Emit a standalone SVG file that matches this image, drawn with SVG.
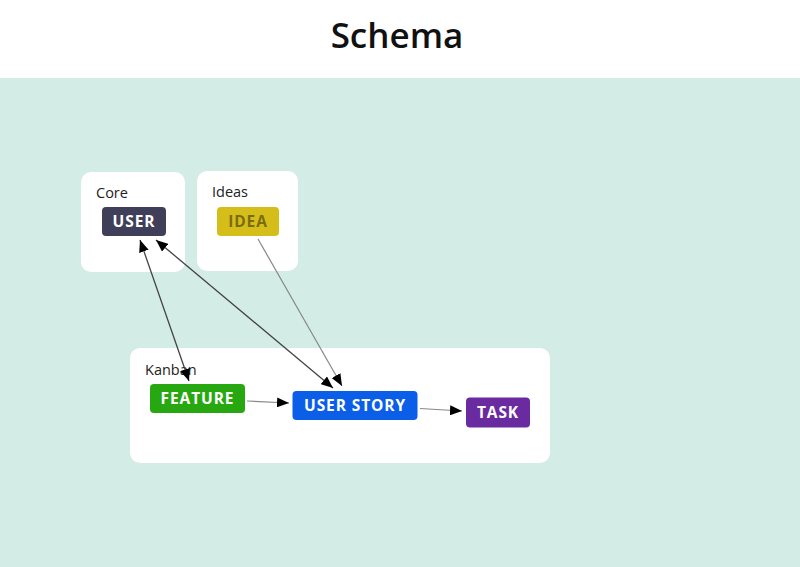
<svg xmlns="http://www.w3.org/2000/svg" width="800" height="567" viewBox="0 0 800 567">
<defs>
<style>
.title{font-family:"Open Sans","Noto Sans",sans-serif;font-weight:600;font-size:35px;fill:#111;}
.grp{fill:#ffffff;}
.glabel{font-family:"Open Sans","Noto Sans",sans-serif;font-size:14.5px;fill:#222;}
.nlabel{font-family:"Open Sans","Noto Sans",sans-serif;font-weight:700;font-size:15.5px;letter-spacing:0.9px;fill:#ffffff;text-anchor:middle;}
.edge{fill:none;stroke:#444;stroke-width:1.3;}
.edge-light{fill:none;stroke:#888;stroke-width:1.2;}
</style>
<marker id="arr" viewBox="0 0 12 10" refX="12" refY="5" markerWidth="12" markerHeight="10" markerUnits="userSpaceOnUse" orient="auto-start-reverse">
<path d="M0,0 L12,5 L0,10 Z" fill="#000"/>
</marker>
</defs>
<rect x="0" y="0" width="800" height="567" fill="#ffffff"/>
<rect x="0" y="78" width="800" height="489" fill="#d3ece6"/>
<text class="title" x="397" y="48" text-anchor="middle">Schema</text>

<g id="group-core">
<rect class="grp" x="81" y="172" width="104" height="100" rx="10"/>
<text class="glabel" x="96" y="198">Core</text>
</g>
<g id="group-ideas">
<rect class="grp" x="197" y="171" width="101" height="100" rx="10"/>
<text class="glabel" x="212" y="197">Ideas</text>
</g>
<g id="group-kanban">
<rect class="grp" x="130" y="348" width="420" height="115" rx="10"/>
<text class="glabel" x="145" y="375">Kanban</text>
</g>

<g id="connectors">
<line class="edge" x1="140" y1="240" x2="189" y2="381" marker-start="url(#arr)" marker-end="url(#arr)"/>
<line class="edge" x1="156" y1="240" x2="333" y2="388" marker-start="url(#arr)" marker-end="url(#arr)"/>
<line class="edge-light" x1="258" y1="239" x2="342" y2="386" marker-end="url(#arr)"/>
<line class="edge-light" x1="247" y1="401" x2="289" y2="403" marker-end="url(#arr)"/>
<line class="edge-light" x1="420" y1="408.5" x2="462" y2="411" marker-end="url(#arr)"/>
</g>

<g id="node-user">
<rect x="102" y="207" width="64" height="29" rx="4" fill="#3f3f5a"/>
<text class="nlabel" x="134" y="227">USER</text>
</g>
<g id="node-idea">
<rect x="217" y="207" width="62" height="29" rx="4" fill="#d6be1a"/>
<text class="nlabel" x="248" y="227" style="fill:#7a6c10">IDEA</text>
</g>
<g id="node-feature">
<rect x="150" y="384" width="95" height="29" rx="4" fill="#28a810"/>
<text class="nlabel" x="197.5" y="404">FEATURE</text>
</g>
<g id="node-user-story">
<rect x="292.5" y="391" width="125" height="29" rx="4" fill="#0a5ee8"/>
<text class="nlabel" x="355" y="411">USER STORY</text>
</g>
<g id="node-task">
<rect x="466" y="397.5" width="64" height="30" rx="4" fill="#6a2aa0"/>
<text class="nlabel" x="498" y="418">TASK</text>
</g>
</svg>
